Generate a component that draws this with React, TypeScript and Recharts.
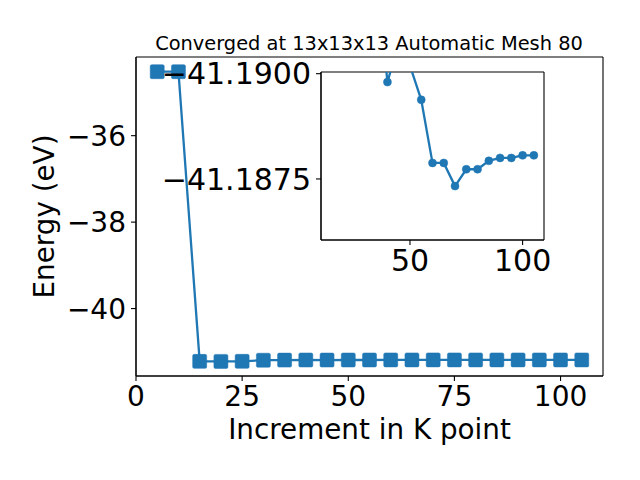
import React from "react";
import {
  LineChart,
  Line,
  XAxis,
  YAxis,
  CartesianGrid,
  Label
} from "recharts";

const FONT = "DejaVu Sans, Liberation Sans, sans-serif";
const BLUE = "#1f77b4";

// k-point increments and total energies (eV)
const kPoints = [5, 10, 15, 20, 25, 30, 35, 40, 45, 50, 55, 60, 65, 70, 75, 80, 85, 90, 95, 100, 105];
const energies = [
  -34.52, -34.52, -41.2215, -41.222, -41.221, -41.195, -41.1925, -41.1898,
  -41.19074, -41.19019, -41.18938, -41.18788, -41.18788, -41.18733, -41.18773,
  -41.18773, -41.18793, -41.188, -41.188, -41.18806, -41.18806
];

const mainXTicks = [0, 25, 50, 75, 100];
const mainYTicks = [-40, -38, -36];
const insetXTicks = [50, 100];
const insetYTicks = [-41.19, -41.1875];

const mainData = kPoints.map((k, i) => ({ k, e: energies[i] }));
const insetData = mainData.slice(2);

const minus = (v: number, digits = 0) =>
  (v < 0 ? "\u2212" : "") + Math.abs(v).toFixed(digits);

const tickStyle = { fill: "#000", fontSize: 28, fontFamily: FONT };
const insetTickStyle = { fill: "#000", fontSize: 30, fontFamily: FONT };
const black = { stroke: "#000", strokeWidth: 1.1 };

// box edges of the plot area (spines)
const edgesH = ({ offset }: any) => [offset.top, offset.top + offset.height];
const edgesV = ({ offset }: any) => [offset.left, offset.left + offset.width];

const Square = (props: any) => {
  const { cx, cy, index } = props;
  if (cx == null || cy == null) return <g key={index} />;
  return (
    <rect
      key={index}
      x={cx - 7}
      y={cy - 7}
      width={14}
      height={14}
      rx={1.5}
      fill={BLUE}
      stroke={BLUE}
      strokeWidth={0.5}
    />
  );
};

export default function App() {
  return (
    <div
      style={{
        position: "fixed",
        top: 0,
        left: 0,
        width: 640,
        height: 480,
        background: "#fff",
        fontFamily: FONT
      }}
    >
      {/* main chart */}
      <div style={{ position: "absolute", top: 0, left: 0 }}>
        <LineChart
          width={640}
          height={480}
          data={mainData}
          margin={{ top: 57, right: 37, bottom: 44, left: 0 }}
        >
          <CartesianGrid
            stroke="#000"
            strokeWidth={1.1}
            horizontalCoordinatesGenerator={edgesH}
            verticalCoordinatesGenerator={edgesV}
          />
          <XAxis
            dataKey="k"
            type="number"
            domain={[0, 110]}
            ticks={mainXTicks}
            height={60}
            tick={tickStyle}
            tickSize={5}
            tickMargin={5}
            axisLine={black}
            tickLine={black}
          >
            <Label
              content={({ viewBox }: any) => (
                <text
                  x={viewBox.x + viewBox.width / 2}
                  y={viewBox.y + 63}
                  textAnchor="middle"
                  fontSize={27.8}
                  fontFamily={FONT}
                  fill="#000"
                >
                  Increment in K point
                </text>
              )}
            />
          </XAxis>
          <YAxis
            dataKey="e"
            type="number"
            domain={[-41.56, -34.18]}
            ticks={mainYTicks}
            width={136}
            tick={tickStyle}
            tickFormatter={(v: number) => minus(v)}
            tickSize={5}
            tickMargin={5}
            axisLine={black}
            tickLine={black}
          >
            <Label
              content={({ viewBox }: any) => {
                const x = viewBox.x + 54;
                const y = viewBox.y + viewBox.height / 2;
                return (
                  <g>
                    <text
                      x={x}
                      y={y}
                      transform={`rotate(-90, ${x}, ${y})`}
                      textAnchor="middle"
                      fontSize={27.8}
                      fontFamily={FONT}
                      fill="#000"
                    >
                      Energy (eV)
                    </text>
                    <text
                      x={viewBox.x + viewBox.width + 233}
                      y={viewBox.y - 7}
                      textAnchor="middle"
                      fontSize={19.4}
                      fontFamily={FONT}
                      fill="#000"
                    >
                      Converged at 13x13x13 Automatic Mesh 80
                    </text>
                  </g>
                );
              }}
            />
          </YAxis>
          <Line
            type="linear"
            dataKey="e"
            stroke={BLUE}
            strokeWidth={2.3}
            dot={Square}
            activeDot={false}
            isAnimationActive={false}
          />
        </LineChart>
      </div>

      {/* inset zoom */}
      <div style={{ position: "absolute", top: 0, left: 0 }}>
        <LineChart
          width={640}
          height={480}
          data={insetData}
          margin={{ top: 72, right: 96, bottom: 200, left: 0 }}
          style={{ overflow: "visible" }}
        >
          <CartesianGrid
            fill="#fff"
            fillOpacity={1}
            stroke="#000"
            strokeWidth={1.1}
            horizontalCoordinatesGenerator={edgesH}
            verticalCoordinatesGenerator={edgesV}
          />
          <XAxis
            dataKey="k"
            type="number"
            domain={[10.5, 109.5]}
            ticks={insetXTicks}
            allowDataOverflow
            height={40}
            tick={insetTickStyle}
            tickSize={5}
            tickMargin={5}
            axisLine={black}
            tickLine={black}
          />
          <YAxis
            dataKey="e"
            type="number"
            domain={[-41.19004, -41.18605]}
            reversed
            allowDataOverflow
            ticks={insetYTicks}
            width={321}
            tick={insetTickStyle}
            tickFormatter={(v: number) => minus(v, 4)}
            tickSize={5}
            tickMargin={5}
            axisLine={black}
            tickLine={black}
          />
          <Line
            type="linear"
            dataKey="e"
            stroke={BLUE}
            strokeWidth={2.3}
            dot={{ r: 4, fill: BLUE, stroke: BLUE, strokeWidth: 0.5 }}
            activeDot={false}
            isAnimationActive={false}
          />
        </LineChart>
      </div>
    </div>
  );
}
